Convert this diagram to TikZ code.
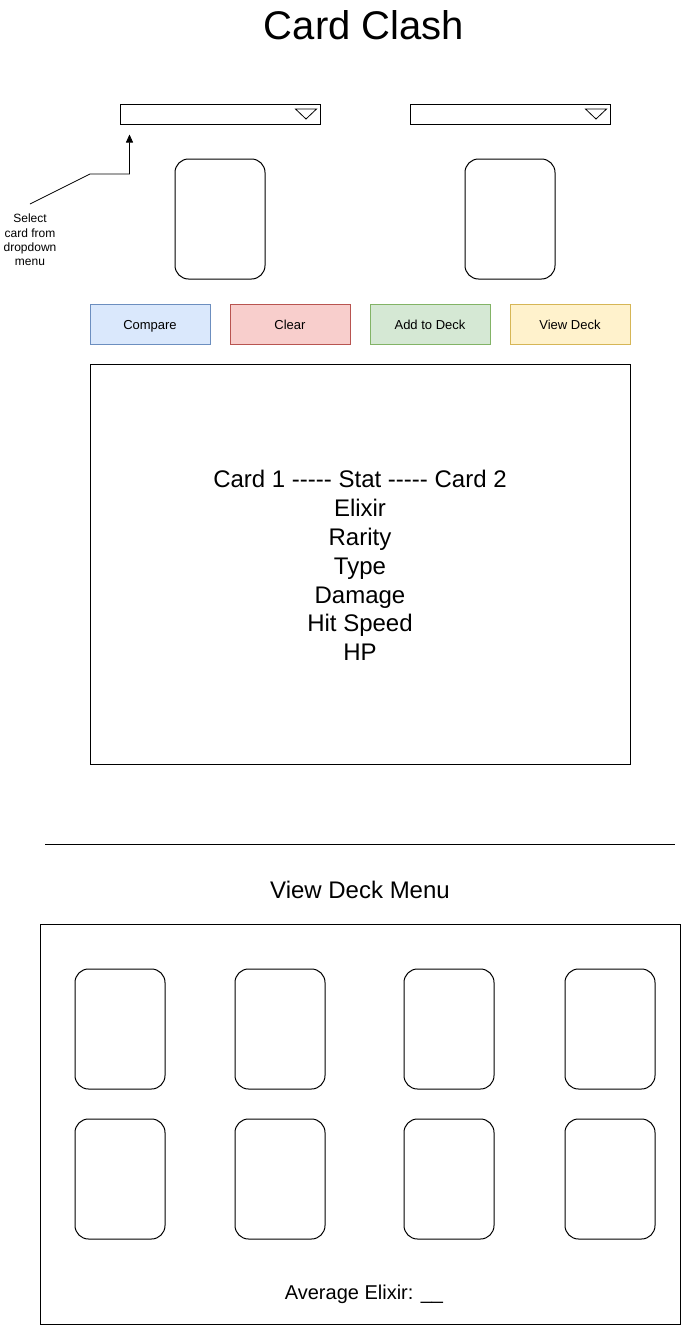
\documentclass[tikz,border=0pt]{standalone}
\usepackage{fontspec}
\setmainfont{Liberation Sans}
\usetikzlibrary{arrows.meta, positioning}

\definecolor{bluefill}{HTML}{DAE8FC}
\definecolor{blueline}{HTML}{6C8EBF}
\definecolor{redfill}{HTML}{F8CECC}
\definecolor{redline}{HTML}{B85450}
\definecolor{greenfill}{HTML}{D5E8D4}
\definecolor{greenline}{HTML}{82B366}
\definecolor{yellowfill}{HTML}{FFF2CC}
\definecolor{yellowline}{HTML}{D6B656}

\tikzset{
  card/.style={draw, rounded corners=13.5pt, minimum width=90pt, minimum height=120pt, inner sep=0pt},
  button/.style={draw, minimum width=120pt, minimum height=40pt, inner sep=0pt,
    text height=11pt, text depth=0pt, font=\fontsize{13}{15.6}\selectfont},
  dropdown/.style={draw, minimum width=200pt, minimum height=20pt, inner sep=0pt},
}

\begin{document}
\begin{tikzpicture}[x=1pt, y=-1pt, line width=1pt]

\useasboundingbox (0,0) rectangle (681,1325);

\node[font=\fontsize{40}{48}\selectfont] at (364,25) (title) {Card Clash};

% dropdowns
\node[dropdown] at (220,114) (dd1) {};
\node[dropdown] at (510,114) (dd2) {};
\foreach \d in {dd1,dd2}
  \draw[line width=0.8pt] ([shift={(-25,-5)}]\d.east) -- ([shift={(-4,-5)}]\d.east)
        -- ([shift={(-14.5,5)}]\d.east) -- cycle;

% selected cards
\node[card] at (220,219) (card1) {};
\node[card] at (510,219) (card2) {};

% note
\node[font=\fontsize{12}{14.4}\selectfont, align=center] at (30,240) (note)
  {Select\\card from\\dropdown\\menu};
\coordinate (notetip) at (30,204);
\draw[line width=0.8pt, -{Stealth[length=8pt, width=7pt, inset=0pt]}]
  (notetip) -- (90,174) -| ([shift={(10,10)}]dd1.south west);

% buttons
\node[button, fill=bluefill, draw=blueline] at (150,324) (compare) {Compare};
\node[button, fill=redfill, draw=redline] at (290,324) (clear) {Clear};
\node[button, fill=greenfill, draw=greenline] at (430,324) (add) {Add to Deck};
\node[button, fill=yellowfill, draw=yellowline] at (570,324) (view) {View Deck};

% stats
\node[draw, minimum width=540pt, minimum height=400pt, inner sep=0pt] at (360,564) (stats) {};
\node[font=\fontsize{24}{28.8}\selectfont, align=center] at ([yshift=-1.5pt]stats.center) (statstext)
  {Card 1 -{}-{}-{}-{}- Stat -{}-{}-{}-{}- Card 2\\Elixir\\Rarity\\Type\\Damage\\Hit Speed\\HP};

\draw (45,844) -- (675,844);

% deck menu
\node[font=\fontsize{24}{28.8}\selectfont] at (360,890) (decktitle) {View Deck Menu};
\node[draw, minimum width=640pt, minimum height=400pt, inner sep=0pt] at (360,1124) (deck) {};
\foreach \x [count=\i] in {120,280,449,610} {
  \node[card] at (\x,1029) (top\i) {};
  \node[card] at (\x,1179) (bot\i) {};
}
\node[font=\fontsize{20}{24}\selectfont, anchor=base] at (364,1299) (avg) {Average Elixir: \_\_};

\end{tikzpicture}
\end{document}
